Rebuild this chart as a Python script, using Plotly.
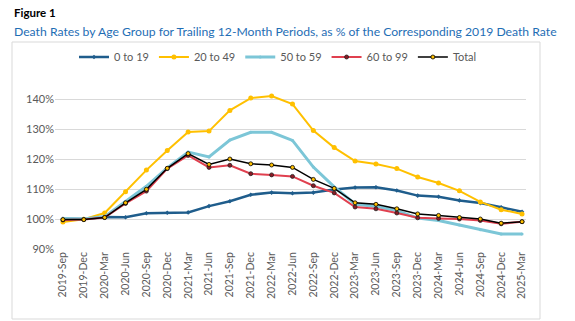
import plotly.graph_objects as go

periods = ["2019-Sep", "2019-Dec", "2020-Mar", "2020-Jun", "2020-Sep", "2020-Dec",
           "2021-Mar", "2021-Jun", "2021-Sep", "2021-Dec", "2022-Mar", "2022-Jun",
           "2022-Sep", "2022-Dec", "2023-Mar", "2023-Jun", "2023-Sep", "2023-Dec",
           "2024-Mar", "2024-Jun", "2024-Sep", "2024-Dec", "2025-Mar"]

age_0_19 = [100.1, 100.0, 100.7, 100.6, 101.9, 102.1, 102.2, 104.3, 105.9, 108.1, 108.8, 108.6,
            108.8, 109.8, 110.5, 110.6, 109.5, 107.8, 107.4, 106.2, 105.3, 103.9, 102.4]
age_20_49 = [99.0, 99.9, 102.0, 109.1, 116.3, 122.8, 129.0, 129.3, 136.2, 140.3, 141.0, 138.3,
             129.5, 123.8, 119.3, 118.3, 116.8, 114.0, 112.0, 109.4, 105.7, 103.1, 101.7]
age_50_59 = [100.2, 100.0, 100.8, 105.7, 110.9, 117.0, 122.3, 120.7, 126.3, 128.9, 128.9, 126.2,
             117.3, 110.7, 105.0, 104.2, 102.8, 100.3, 99.5, 98.0, 96.4, 95.0, 95.0]
age_60_99 = [99.7, 99.8, 100.5, 105.2, 109.3, 116.8, 121.2, 117.2, 117.9, 115.1, 114.7, 114.2,
             111.1, 108.7, 104.0, 103.4, 102.0, 100.4, 100.2, 100.0, 99.5, 98.4, 99.1]
total = [99.8, 99.8, 100.5, 105.4, 109.9, 116.9, 121.8, 118.2, 120.0, 118.4, 118.0, 117.2,
         113.2, 110.2, 105.4, 104.9, 103.4, 101.7, 101.2, 100.5, 100.0, 98.6, 99.1]

y_ticks = [90, 100, 110, 120, 130, 140]
y_tick_labels = ["90%", "100%", "110%", "120%", "130%", "140%"]

W, H = 575, 321
ML, MR, MT, MB = 55, 49, 93, 72
PW, PH = W - ML - MR, H - MT - MB


def px_x(p):
    return (p - ML) / PW


def px_y(p):
    return (H - MB - p) / PH


FONT = "Lato"
GRAY = "#595959"

series = [
    ("0 to 19", age_0_19, dict(color="#1f5d8c", width=2.5),
     dict(symbol="diamond", size=3.5, color="#1f5d8c")),
    ("20 to 49", age_20_49, dict(color="#ffc000", width=2),
     dict(symbol="circle", size=5, color="#ffc000")),
    ("50 to 59", age_50_59, dict(color="#7cc6d7", width=3),
     dict(symbol="circle", size=3, color="#7cc6d7")),
    ("60 to 99", age_60_99, dict(color="#e0404f", width=2),
     dict(symbol="circle", size=4, color="#8b1a24", line=dict(color="#222222", width=0.8))),
    ("Total", total, dict(color="#000000", width=1.5),
     dict(symbol="circle", size=4, color="#ffc000", line=dict(color="#000000", width=0.8))),
]

fig = go.Figure()
for name, vals, line, marker in series:
    fig.add_trace(go.Scatter(x=periods, y=vals, name=name, mode="lines+markers",
                             line=line, marker=marker, cliponaxis=False))

fig.update_layout(
    width=W, height=H,
    margin=dict(l=ML, r=MR, t=MT, b=MB, pad=0),
    paper_bgcolor="white", plot_bgcolor="white",
    font=dict(family=FONT, color=GRAY, size=11),
    showlegend=True,
    legend=dict(orientation="h", x=px_x(278), xanchor="center", y=px_y(57), yanchor="middle",
                font=dict(size=11, color=GRAY, family=FONT), itemwidth=30,
                bgcolor="rgba(0,0,0,0)", tracegroupgap=0),
    xaxis=dict(type="category", range=[-0.38, 22.19], showgrid=False, zeroline=False,
               showline=False, tickangle=-90, tickfont=dict(size=10.5, color=GRAY, family=FONT),
               ticks="", ticklen=0),
    yaxis=dict(range=[90, 142], tickvals=y_ticks, ticktext=y_tick_labels, showgrid=True,
               gridcolor="#d9d9d9", gridwidth=1, zeroline=False, showline=False,
               tickfont=dict(size=11, color=GRAY, family=FONT), ticks=""),
    shapes=[dict(type="rect", xref="paper", yref="paper",
                 x0=px_x(12), x1=px_x(540), y0=px_y(319), y1=px_y(42),
                 line=dict(color="#d9d9d9", width=1), fillcolor="rgba(0,0,0,0)", layer="below")],
    annotations=[
        dict(text="<b>Figure 1</b>", xref="paper", yref="paper", x=px_x(12), y=px_y(12),
             xanchor="left", yanchor="middle", showarrow=False,
             font=dict(family=FONT, size=11.5, color="#000000")),
        dict(text="Death Rates by Age Group for Trailing 12-Month Periods, as % of the Corresponding 2019 Death Rate",
             xref="paper", yref="paper", x=px_x(12), y=px_y(31),
             xanchor="left", yanchor="middle", showarrow=False,
             font=dict(family=FONT, size=12.2, color="#1f6eb5")),
    ],
)

fig.write_html("out.html")
